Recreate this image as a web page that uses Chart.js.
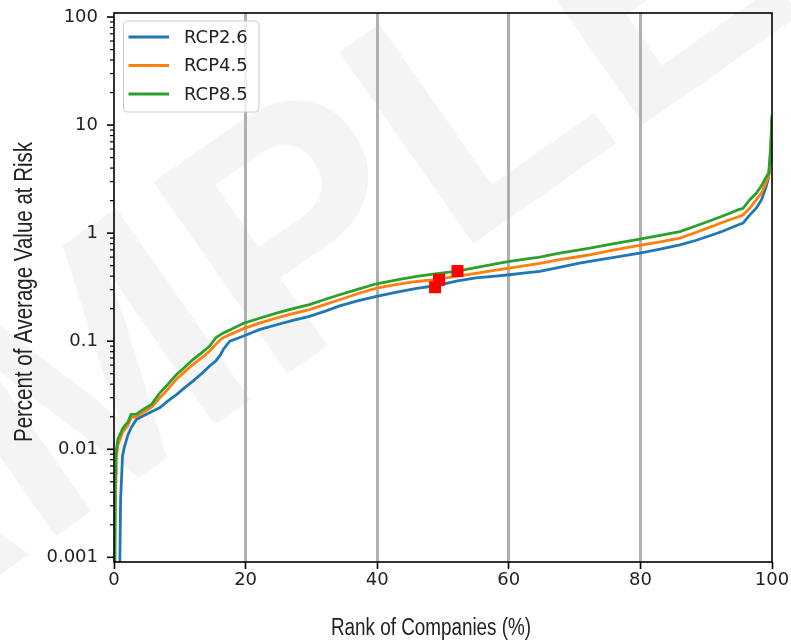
<!DOCTYPE html>
<html>
<head>
<meta charset="utf-8">
<script src="https://cdn.jsdelivr.net/npm/chart.js@4.4.1/dist/chart.umd.min.js"></script>
<style>
html,body{margin:0;padding:0;background:#fff;}
#wrap{width:791px;height:641px;position:relative;}
</style>
</head>
<body>
<div id="wrap"><canvas id="c" width="791" height="641"></canvas></div>
<script>
// ---- data ----
const ranks = [0.1,0.2,0.3,0.6,0.87,1.0,1.3,1.6,2.1,2.6,3.4,4.4,5.7,7.0,8.2,9.5,10.7,12.0,13.3,14.5,15.5,16.2,16.6,17.6,19.6,22.1,24.7,27.2,29.7,32,34.3,37,39.9,43,46,48.8,52.2,55,58,60.1,62.5,64.7,67.5,70.75,72.3,76,79.9,83,86,88.5,91,92.5,93.6,94.8,95.6,96.6,97.6,98.4,99.1,99.5,99.8,100];
const rcp26 = [null,null,null,null,0.0007,0.0034,0.0087,0.0106,0.0135,0.0158,0.0189,0.0203,0.0222,0.0243,0.028,0.0321,0.037,0.0427,0.050,0.0587,0.066,0.075,0.0838,0.100,0.111,0.128,0.142,0.156,0.170,0.189,0.212,0.236,0.260,0.285,0.308,0.326,0.362,0.386,0.400,0.412,0.428,0.442,0.48,0.528,0.547,0.597,0.653,0.71,0.78,0.86,0.966,1.04,1.11,1.19,1.24,1.47,1.70,2.03,2.69,3.33,5.0,11];
const rcp45 = [0.0005,0.005,0.008,0.011,0.0122,0.0128,0.0143,0.0152,0.0165,0.0197,0.020,0.0219,0.0245,0.0301,0.036,0.0445,0.052,0.0608,0.070,0.0807,0.094,0.1035,0.108,0.115,0.130,0.147,0.164,0.180,0.196,0.218,0.242,0.275,0.310,0.335,0.357,0.372,0.400,0.425,0.455,0.475,0.50,0.525,0.565,0.608,0.631,0.70,0.769,0.83,0.90,1.02,1.16,1.26,1.33,1.41,1.47,1.70,2.03,2.35,2.95,3.4,5.5,11.5];
const rcp85 = [0.0005,0.006,0.0093,0.0124,0.0135,0.014,0.0155,0.0165,0.0178,0.021,0.0211,0.0233,0.026,0.0335,0.040,0.0492,0.057,0.0676,0.078,0.0898,0.108,0.115,0.119,0.127,0.146,0.163,0.182,0.200,0.218,0.243,0.269,0.302,0.340,0.370,0.398,0.420,0.446,0.48,0.52,0.547,0.575,0.600,0.65,0.702,0.726,0.80,0.881,0.955,1.035,1.17,1.33,1.44,1.53,1.64,1.70,2.03,2.34,2.75,3.3,3.6,6.3,12.4];
const markerRanks = [48.8, 49.4, 52.2];
const markerValues = [0.316, 0.371, 0.446];
const seriesLabels = ['RCP2.6','RCP4.5','RCP8.5'];
const xTicks = [0,20,40,60,80,100];
const xTickLabels = ['0','20','40','60','80','100'];
const yTicks = [0.001,0.01,0.1,1,10,100];
const yTickLabels = ['0.001','0.01','0.1','1','10','100'];
const minorMultipliers = [2,3,4,5,6,7,8,9];
const xTitle = 'Rank of Companies (%)';
const yTitle = 'Percent of Average Value at Risk';
const watermarkText = 'SAMPLE';

// ---- styles ----
const colors = ['#1f77b4','#ff7f0e','#2ca02c'];
const tickFont = {family:'"DejaVu Sans", Verdana, sans-serif', size:18};

function pts(xs, ys){ return xs.map((x,i)=>({x:x, y:ys[i]})); }

const bgPlugin = {
  id:'bgWatermark',
  beforeDraw(chart){
    const ctx = chart.ctx;
    ctx.save();
    ctx.fillStyle = '#ffffff';
    ctx.fillRect(0,0,chart.width,chart.height);
    ctx.translate(-350, 820);
    ctx.rotate(-35*Math.PI/180);
    ctx.font = 'bold 340px "Liberation Sans", Arial, sans-serif';
    ctx.fillStyle = 'rgba(0,0,0,0.045)';
    ctx.textAlign = 'left';
    ctx.textBaseline = 'alphabetic';
    ctx.fillText(watermarkText, 0, 0);
    ctx.restore();
  }
};

const legendPlugin = {
  id:'insideLegend',
  afterDatasetsDraw(chart){
    const ctx = chart.ctx;
    const a = chart.chartArea;
    const bx = a.left + 9.5, by = a.top + 8, bw = 135.5, bh = 91, r = 4;
    ctx.save();
    ctx.beginPath();
    ctx.moveTo(bx+r,by); ctx.lineTo(bx+bw-r,by); ctx.quadraticCurveTo(bx+bw,by,bx+bw,by+r);
    ctx.lineTo(bx+bw,by+bh-r); ctx.quadraticCurveTo(bx+bw,by+bh,bx+bw-r,by+bh);
    ctx.lineTo(bx+r,by+bh); ctx.quadraticCurveTo(bx,by+bh,bx,by+bh-r);
    ctx.lineTo(bx,by+r); ctx.quadraticCurveTo(bx,by,bx+r,by);
    ctx.closePath();
    ctx.fillStyle = 'rgba(255,255,255,0.8)';
    ctx.fill();
    ctx.strokeStyle = '#cccccc';
    ctx.lineWidth = 1;
    ctx.stroke();
    ctx.font = '18px "DejaVu Sans", Verdana, sans-serif';
    ctx.textAlign = 'left';
    ctx.textBaseline = 'middle';
    for (let i=0;i<3;i++){
      const ds = chart.data.datasets[i];
      const y = by + 16 + 28.5*i;
      ctx.beginPath();
      ctx.moveTo(bx+5, y); ctx.lineTo(bx+45.5, y);
      ctx.strokeStyle = ds.borderColor;
      ctx.lineWidth = 2.8;
      ctx.stroke();
      ctx.fillStyle = '#222';
      ctx.fillText(ds.label, bx+60.5, y+1);
    }
    ctx.restore();
  },
  afterDraw(chart){
    const ctx = chart.ctx;
    const a = chart.chartArea;
    const ys = chart.scales.y;
    ctx.save();
    ctx.strokeStyle = '#000';
    // minor ticks
    ctx.lineWidth = 1.2;
    for (const d of [0.0001].concat(yTicks)){
      for (const k of minorMultipliers){
        const v = d*k;
        if (v < ys.min || v > ys.max) continue;
        const py = ys.getPixelForValue(v);
        ctx.beginPath(); ctx.moveTo(a.left-4, py); ctx.lineTo(a.left, py); ctx.stroke();
      }
    }
    // major ticks
    ctx.lineWidth = 1.6;
    for (const v of yTicks){
      const py = ys.getPixelForValue(v);
      ctx.beginPath(); ctx.moveTo(a.left-7, py); ctx.lineTo(a.left, py); ctx.stroke();
    }
    // frame
    ctx.lineWidth = 1.6;
    ctx.strokeRect(a.left, a.top, a.right-a.left, a.bottom-a.top);
    // axis titles (narrow lettering, as in the reference)
    ctx.fillStyle = '#222';
    ctx.textAlign = 'center';
    ctx.textBaseline = 'middle';
    ctx.save();
    ctx.font = '23px "Liberation Sans", Arial, sans-serif';
    ctx.translate(431, 629);
    ctx.scale(0.82, 1);
    ctx.fillText(xTitle, 0, 0);
    ctx.restore();
    ctx.save();
    ctx.font = '25px "Liberation Sans", Arial, sans-serif';
    ctx.translate(25, 292);
    ctx.rotate(-Math.PI/2);
    ctx.scale(0.82, 1);
    ctx.fillText(yTitle, 0, 0);
    ctx.restore();
    ctx.restore();
  }
};

new Chart(document.getElementById('c'), {
  type:'line',
  data:{
    datasets:[
      {label:seriesLabels[0], data:pts(ranks,rcp26), borderColor:colors[0], backgroundColor:colors[0], borderWidth:2.8, pointRadius:0, tension:0, fill:false, order:3},
      {label:seriesLabels[1], data:pts(ranks,rcp45), borderColor:colors[1], backgroundColor:colors[1], borderWidth:2.8, pointRadius:0, tension:0, fill:false, order:2},
      {label:seriesLabels[2], data:pts(ranks,rcp85), borderColor:colors[2], backgroundColor:colors[2], borderWidth:2.8, pointRadius:0, tension:0, fill:false, order:1},
      {label:'markers', data:pts(markerRanks,markerValues), showLine:false, pointStyle:'rect', pointRadius:8.5, pointBorderWidth:0, backgroundColor:'#ff0000', borderColor:'#ff0000', order:0}
    ]
  },
  options:{
    responsive:false,
    devicePixelRatio:1,
    animation:false,
    events:[],
    layout:{padding:{left:0,right:19,top:13,bottom:0}},
    plugins:{legend:{display:false}, tooltip:{enabled:false}},
    scales:{
      x:{
        type:'linear', min:0, max:100,
        afterBuildTicks:s=>{ s.ticks = xTicks.map(v=>({value:v})); },
        afterFit:s=>{ s.height = 79; s.paddingLeft = 0; s.paddingRight = 0; },
        grid:{display:true, drawOnChartArea:true, drawTicks:true, tickLength:7,
          color:c=> (c.tick && (c.tick.value===0 || c.tick.value===100)) ? 'rgba(0,0,0,0)' : '#b0b0b0',
          lineWidth:3, tickColor:'#000', tickWidth:1.6},
        border:{display:false},
        ticks:{autoSkip:false, maxRotation:0, padding:1, font:tickFont, color:'#222',
          callback:(v,i)=> xTickLabels[i]},
        title:{display:false}
      },
      y:{
        type:'logarithmic', min:0.000905, max:109,
        afterBuildTicks:s=>{ s.ticks = yTicks.map(v=>({value:v})); },
        afterFit:s=>{ s.width = 114; s.paddingTop = 0; s.paddingBottom = 0; },
        grid:{display:true, drawOnChartArea:false, drawTicks:false},
        border:{display:false},
        ticks:{autoSkip:false, padding:16, font:tickFont, color:'#222',
          callback:(v,i)=> yTickLabels[i]},
        title:{display:false}
      }
    }
  },
  plugins:[bgPlugin, legendPlugin]
});
</script>
</body>
</html>
